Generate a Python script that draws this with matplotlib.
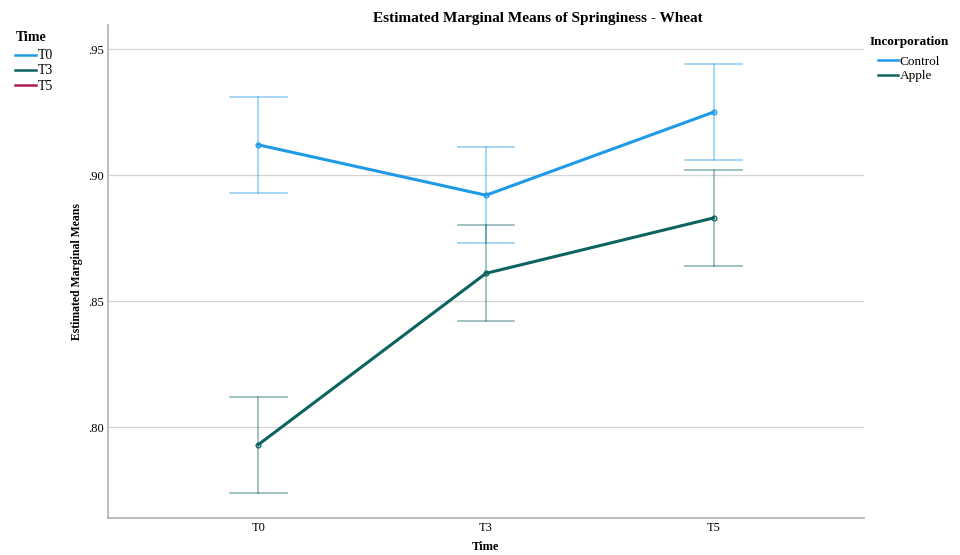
import numpy as np
import matplotlib.pyplot as plt
from matplotlib.lines import Line2D

# Estimated marginal means of springiness (wheat) with 95% CI
tempos = ['T0', 'T3', 'T5']
controle_media = [0.912, 0.892, 0.925]
controle_inf = [0.893, 0.873, 0.906]
controle_sup = [0.931, 0.911, 0.944]
maca_media = [0.793, 0.861, 0.883]
maca_inf = [0.774, 0.842, 0.864]
maca_sup = [0.812, 0.880, 0.902]
tempo_cores = ['#1f9ae6', '#0d635f', '#b01a5c']

AZUL = '#1f9ae6'
VERDE = '#0d635f'
FONTE = 'Liberation Serif'

plt.rcParams['font.family'] = FONTE

fig = plt.figure(figsize=(9.6, 5.55), dpi=100)
ax = fig.add_axes([0.1125, 0.0667, 0.7875, 0.888])
x = np.arange(len(tempos))

def desenha_serie(media, inf, sup, cor):
    for xi, lo, hi in zip(x, inf, sup):
        ax.plot([xi, xi], [lo, hi], color=cor, alpha=0.5, lw=1.1, zorder=2)
        for yv in (lo, hi):
            ax.plot([xi - 0.125, xi + 0.125], [yv, yv], color=cor, alpha=0.5, lw=1.1, zorder=2)
    ax.plot(x, media, color=cor, lw=2.2, zorder=3)
    ax.plot(x, media, 'o', ms=3.5, mfc='none', mec=cor, mew=0.9, zorder=4)

desenha_serie(controle_media, controle_inf, controle_sup, AZUL)
desenha_serie(maca_media, maca_inf, maca_sup, VERDE)

ax.set_xlim(-0.66, 2.66)
ax.set_ylim(0.7639, 0.9595)
ax.set_yticks([0.80, 0.85, 0.90, 0.95])
ax.set_yticklabels(['.80', '.85', '.90', '.95'])
ax.set_xticks(x)
ax.set_xticklabels(tempos)
ax.tick_params(length=0, labelsize=9, pad=3)
ax.grid(axis='y', color='#d4d4d4', lw=0.9)
ax.set_axisbelow(True)
for lado in ('top', 'right'):
    ax.spines[lado].set_visible(False)
for lado in ('left', 'bottom'):
    ax.spines[lado].set_color('#b0b0b0')
    ax.spines[lado].set_linewidth(1.2)

ax.set_xlabel('Time', fontsize=9, fontweight='bold', labelpad=5)
ax.set_ylabel('Estimated Marginal Means', fontsize=8.5, fontweight='bold', labelpad=4)
fig.text(0.56, 0.967, 'Estimated Marginal Means of Springiness - Wheat',
         ha='center', va='center', fontsize=11, fontweight='bold')

# legenda dos tempos (esquerda)
alcas_tempo = [Line2D([], [], color=c, lw=1.8) for c in tempo_cores]
leg1 = fig.legend(alcas_tempo, tempos, title='Time', loc='upper left',
                  bbox_to_anchor=(0.006, 0.962), frameon=False, fontsize=10,
                  handlelength=1.5, handletextpad=0.1, labelspacing=0.15,
                  borderpad=0.2, title_fontproperties={'weight': 'bold', 'size': 10})
leg1._legend_box.align = 'left'
leg1._legend_box.sep = 4

# legenda da incorporação (direita)
alcas_inc = [Line2D([], [], color=AZUL, lw=1.8), Line2D([], [], color=VERDE, lw=1.8)]
leg2 = fig.legend(alcas_inc, ['Control', 'Apple'], title='Incorporation', loc='upper left',
                  bbox_to_anchor=(0.896, 0.951), frameon=False, fontsize=9.5,
                  handlelength=1.5, handletextpad=0.1, labelspacing=0.2,
                  borderpad=0.2, title_fontproperties={'weight': 'bold', 'size': 9.5})
leg2._legend_box.sep = 5

fig.savefig('out.png', dpi=100)
